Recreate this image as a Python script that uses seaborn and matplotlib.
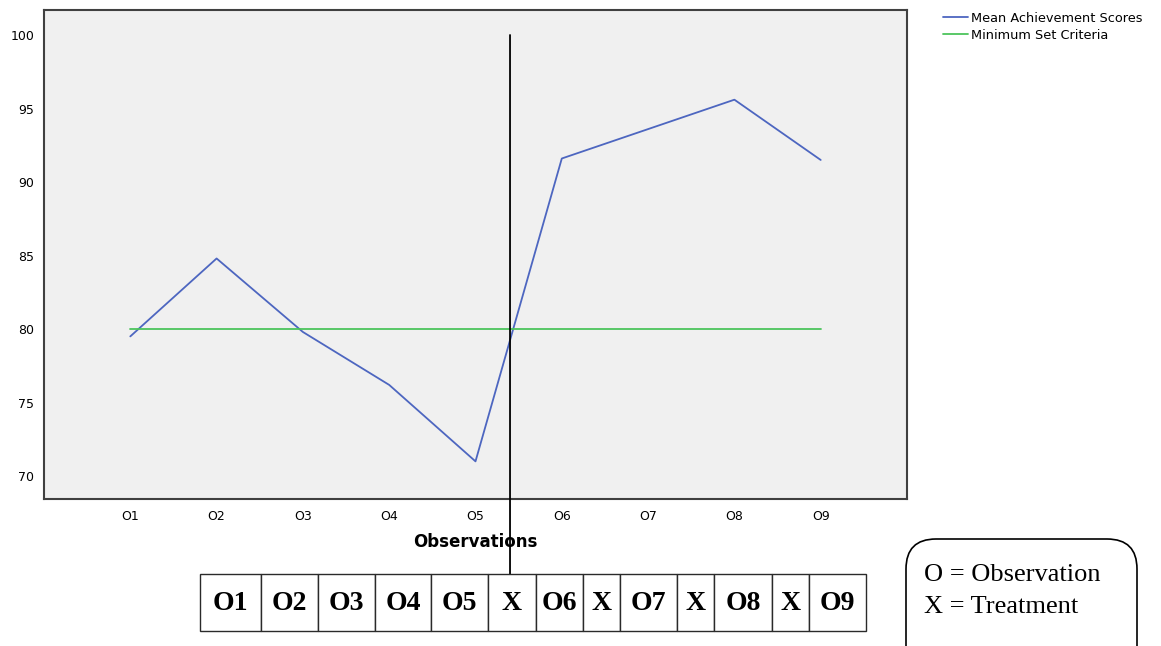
import numpy as np
import pandas as pd
import matplotlib.pyplot as plt
from matplotlib.patches import Rectangle, FancyBboxPatch
import seaborn as sns

# data
observations = ["O1", "O2", "O3", "O4", "O5", "O6", "O7", "O8", "O9"]
mean_scores = [79.5, 84.8, 79.8, 76.2, 71.0, 91.6, 93.6, 95.6, 91.5]
criteria = [80, 80, 80, 80, 80, 80, 80, 80, 80]
series_names = ["Mean Achievement Scores", "Minimum Set Criteria"]
y_ticks = [70, 75, 80, 85, 90, 95, 100]
design_cells = ["O1", "O2", "O3", "O4", "O5", "X", "O6", "X", "O7", "X", "O8", "X", "O9"]
key_lines = ["O = Observation", "X = Treatment"]

sns.set_style("white")
plt.rcParams['font.family'] = ['DejaVu Sans']
plt.rcParams['text.color'] = 'black'
plt.rcParams['axes.labelcolor'] = 'black'
plt.rcParams['xtick.color'] = 'black'
plt.rcParams['ytick.color'] = 'black'

W, H = 1161, 646
fig = plt.figure(figsize=(W / 100, H / 100), dpi=100)
ax = fig.add_axes([44 / W, 147 / H, 863 / W, 489 / H])

idx = list(range(len(observations)))
df = pd.DataFrame({
    "obs": idx + idx,
    "value": mean_scores + criteria,
    "series": [series_names[0]] * len(idx) + [series_names[1]] * len(idx),
})
sns.lineplot(data=df, x="obs", y="value", hue="series",
             palette=["#4d66c0", "#4cc45c"], linewidth=1.3, ax=ax)

ax.set_facecolor("#f0f0f0")
ax.set_xlim(-1, 9)
ax.set_ylim(68.44, 101.7)
ax.set_xticks(idx)
ax.set_xticklabels(observations)
ax.set_yticks(y_ticks)
ax.tick_params(axis="y", length=5.5, width=1.5, color="#333333", pad=1.5, labelsize=9)
ax.tick_params(axis="x", length=4.3, width=1.2, color="#333333", pad=3.5, labelsize=9)
for s in ax.spines.values():
    s.set_color("#404040")
    s.set_linewidth(1.5)
ax.set_xlabel("Observations", fontweight="bold", fontsize=12, labelpad=7)
ax.set_ylabel("")

handles, labels = ax.get_legend_handles_labels()
ax.legend(handles, labels, loc="upper left", bbox_to_anchor=(943 / W, 1 - 12 / H),
          bbox_transform=fig.transFigure, frameon=False, fontsize=9.3,
          handlelength=1.9, handletextpad=0.3, borderpad=0, borderaxespad=0,
          labelspacing=0.3)

# treatment marker between O5 and O6, running down to the design table
ax.annotate("", xy=(4.4, 100), xycoords="data",
            xytext=(4.4, (H - 574) / H), textcoords=("data", "figure fraction"),
            arrowprops=dict(arrowstyle="-", color="black", lw=1.3,
                            shrinkA=0, shrinkB=0),
            annotation_clip=False)

# overlay in pixel units for the design table and key box
ov = fig.add_axes([0, 0, 1, 1])
ov.set_xlim(0, W)
ov.set_ylim(H, 0)
ov.axis("off")
ov.patch.set_alpha(0)

cell_edges = [200, 261, 318, 375, 431, 488, 536, 583, 620, 677, 714, 772, 809, 866]
for i, lab in enumerate(design_cells):
    x0, x1 = cell_edges[i], cell_edges[i + 1]
    ov.add_patch(Rectangle((x0, 574), x1 - x0, 57, facecolor="white",
                           edgecolor="#2a2a2a", lw=1.0))
    ov.text((x0 + x1) / 2, 604, lab, ha="center", va="center", color="black",
            fontsize=20, fontweight="bold", family="Liberation Serif")

ov.add_patch(FancyBboxPatch((906, 539), 231, 140,
                            boxstyle="round,pad=0,rounding_size=30",
                            facecolor="white", edgecolor="black", lw=1.2))
for j, line in enumerate(key_lines):
    ov.text(924, 575 + j * 32, line, ha="left", va="center", color="black",
            fontsize=19, family="Liberation Serif")

fig.savefig("out.png", dpi=100)
